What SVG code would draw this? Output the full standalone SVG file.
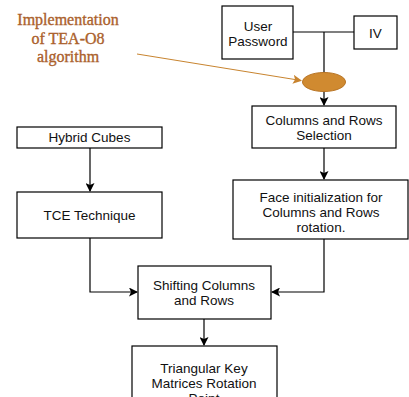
<svg xmlns="http://www.w3.org/2000/svg" width="409" height="397" viewBox="0 0 409 397">
  <defs>
    <marker id="arr" markerWidth="9" markerHeight="9" refX="8" refY="4.5" orient="auto" markerUnits="userSpaceOnUse">
      <path d="M0,0 L9,4.5 L0,9 L2,4.5 Z" fill="#000"/>
    </marker>
    <marker id="arrOrange" markerWidth="9" markerHeight="9" refX="8" refY="4.5" orient="auto" markerUnits="userSpaceOnUse">
      <path d="M0,0 L9,4.5 L0,9 L2,4.5 Z" fill="#c8842f"/>
    </marker>
    <style>
      .box { fill: #fff; stroke: #000; stroke-width: 1.2; }
      .lbl { font-family: "Liberation Sans", Arial, sans-serif; font-size: 13.5px; fill: #111; text-anchor: middle; }
      .note { font-family: "Liberation Serif", "Times New Roman", serif; font-size: 16px; fill: #ab612c; stroke: #ab612c; stroke-width: 0.35; text-anchor: middle; }
      .wire { fill: none; stroke: #000; stroke-width: 1.2; }
    </style>
  </defs>
  <rect width="409" height="397" fill="#fff"/>

  <!-- connectors -->
  <g id="connectors">
    <path class="wire" d="M293,32 H354"/>
    <path class="wire" d="M324,32 V72.5"/>
    <path class="wire" d="M324,91.5 V105" marker-end="url(#arr)"/>
    <path class="wire" d="M324,148 V179" marker-end="url(#arr)"/>
    <path class="wire" d="M90,148 V191" marker-end="url(#arr)"/>
    <path class="wire" d="M90,238 V292 H137" marker-end="url(#arr)"/>
    <path class="wire" d="M324,239 V292 H272" marker-end="url(#arr)"/>
    <path class="wire" d="M204,319 V345" marker-end="url(#arr)"/>
    <path d="M137,54 L301,80.5" fill="none" stroke="#c8842f" stroke-width="1" marker-end="url(#arrOrange)"/>
  </g>

  <!-- annotation -->
  <g id="note">
    <text class="note" x="68" y="25">Implementation</text>
    <text class="note" x="68" y="43.5">of TEA-O8</text>
    <text class="note" x="68" y="62">algorithm</text>
  </g>

  <g id="user-password">
    <rect class="box" x="222" y="6" width="71" height="53"/>
    <text class="lbl" x="258" y="31">User</text>
    <text class="lbl" x="258" y="46">Password</text>
  </g>

  <g id="iv">
    <rect class="box" x="354" y="16" width="43" height="33"/>
    <text class="lbl" x="375.5" y="37.5">IV</text>
  </g>

  <g id="combine">
    <ellipse cx="324" cy="82" rx="21.5" ry="9.5" fill="#d08a30" stroke="#b87424" stroke-width="1"/>
  </g>

  <g id="selection">
    <rect class="box" x="252" y="106" width="144" height="42"/>
    <text class="lbl" x="324" y="125">Columns and Rows</text>
    <text class="lbl" x="324" y="140">Selection</text>
  </g>

  <g id="hybrid-cubes">
    <rect class="box" x="17" y="127" width="145" height="21"/>
    <text class="lbl" x="89.5" y="142">Hybrid Cubes</text>
  </g>

  <g id="tce">
    <rect class="box" x="17" y="192" width="145" height="46"/>
    <text class="lbl" x="89.5" y="220">TCE Technique</text>
  </g>

  <g id="face-init">
    <rect class="box" x="233" y="180" width="175" height="59"/>
    <text class="lbl" x="321" y="202">Face initialization for</text>
    <text class="lbl" x="321" y="217">Columns and Rows</text>
    <text class="lbl" x="321" y="232">rotation.</text>
  </g>

  <g id="shifting">
    <rect class="box" x="138" y="266" width="133" height="53"/>
    <text class="lbl" x="204" y="290">Shifting Columns</text>
    <text class="lbl" x="204" y="305">and Rows</text>
  </g>

  <g id="triangular">
    <rect class="box" x="132" y="346" width="145" height="60"/>
    <text class="lbl" x="204" y="373">Triangular Key</text>
    <text class="lbl" x="204" y="388">Matrices Rotation</text>
    <text class="lbl" x="204" y="403">Point</text>
  </g>
</svg>
